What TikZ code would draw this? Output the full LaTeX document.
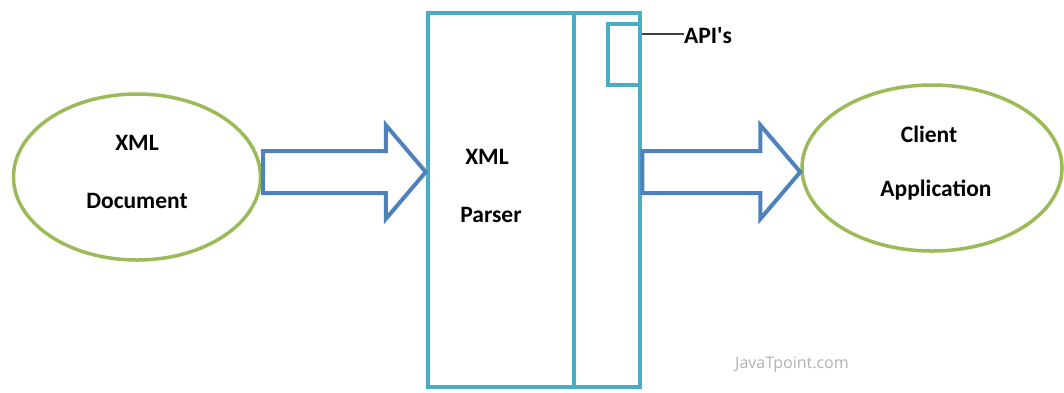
\documentclass[tikz,border=0pt]{standalone}
\usepackage{fontspec}
\setmainfont{Carlito}
\newfontfamily\wmfont{Open Sans}
\usepackage{tikz}
\usetikzlibrary{calc,shapes.geometric}
\usepackage{xcolor}
\definecolor{ovgreen}{HTML}{9BBB59}
\definecolor{arblue}{HTML}{4F81BD}
\definecolor{bxteal}{HTML}{4BACC6}
\tikzset{
  oval/.style={ellipse, draw=ovgreen, line width=3.5pt, inner sep=0pt},
  box/.style={draw=bxteal, line width=4.5pt, inner sep=0pt},
  blockarrow/.style={draw=arblue, line width=4pt, line join=miter},
  lbl/.style={font=\fontsize{23.5}{28}\selectfont\bfseries, anchor=base, inner sep=0pt},
  leader/.style={draw=black!75, line width=1.5pt},
  wmark/.style={font=\wmfont\fontsize{16}{19}\selectfont, text=black!30, anchor=base, inner sep=0pt},
}
% Blockpfeil von #1 (Schaftende) nach #2 (Spitze)
\newcommand{\blockarrow}[2]{%
  \draw[blockarrow] ($(#1)+(0,-21)$) -- ($(#2)+(-40,-21)$) -- ($(#2)+(-40,-47)$) -- (#2)
    -- ($(#2)+(-40,47)$) -- ($(#2)+(-40,21)$) -- ($(#1)+(0,21)$) -- cycle;}
\begin{document}
\begin{tikzpicture}[x=1pt, y=-1pt]
  \useasboundingbox (0,0) rectangle (1064,392);
  % Ellipsen
  \node[oval, minimum width=247pt, minimum height=166pt] (doc) at (137,177) {};
  \node[oval, minimum width=260pt, minimum height=166pt] (client) at (932,168) {};
  \node[lbl] (docxml) at (137,150) {XML};
  \node[lbl] (doctxt) at (137,208) {Document};
  \node[lbl] (clienttxt) at (929,142) {Client};
  \node[lbl] (apptxt) at (936,196) {Application};
  % Parser mit API-Spalte
  \node[box, minimum width=212pt, minimum height=374pt] (parser) at (534,200) {};
  \draw[box] ($(parser.north)+(40,0)$) -- ($(parser.south)+(40,0)$);
  \node[box, minimum width=32pt, minimum height=61pt] (api) at (624,54.5) {};
  \node[lbl] (parserxml) at (487,164) {XML};
  \node[lbl] (parsertxt) at (491,222) {Parser};
  \node[lbl, anchor=base west] (apilbl) at (684,43) {API\textquotesingle s};
  \draw[leader] (api.east |- 0,34) -- (apilbl.west |- 0,34);
  % Pfeile
  \coordinate (inL) at (263,172);
  \coordinate (inR) at (parser.west |- inL);
  \coordinate (outL) at (parser.east |- inL);
  \coordinate (outR) at (client.west |- inL);
  \blockarrow{inL}{inR}
  \blockarrow{outL}{outR}
  \node[wmark] (wm) at (792,368) {JavaTpoint.com};
\end{tikzpicture}
\end{document}
